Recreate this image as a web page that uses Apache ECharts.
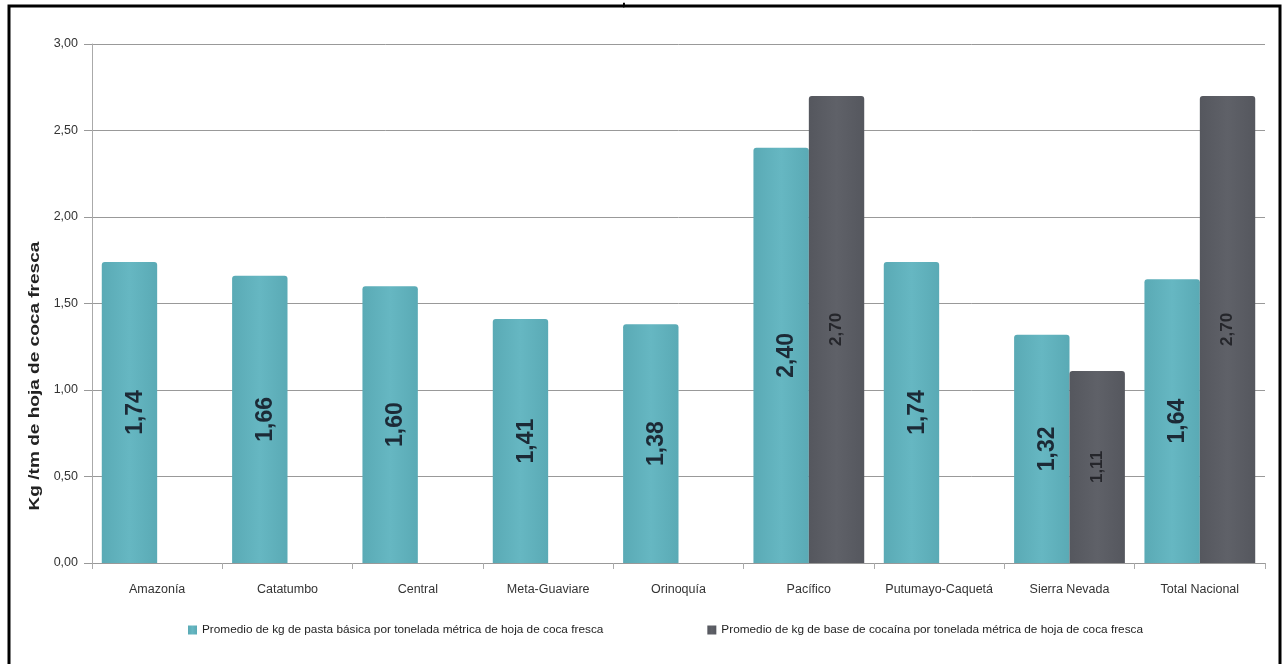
<!DOCTYPE html>
<html><head><meta charset="utf-8">
<script src="https://cdn.jsdelivr.net/npm/echarts@6/dist/echarts.min.js"></script>
<style>html,body{margin:0;padding:0;background:#fff}#c{width:1287px;height:664px}</style>
</head><body><div id="c"></div>
<script>
const categories = ['Amazonía','Catatumbo','Central','Meta-Guaviare','Orinoquía','Pacífico','Putumayo-Caquetá','Sierra Nevada','Total Nacional'];
const pastaBasica = [1.74,1.66,1.60,1.41,1.38,2.40,1.74,1.32,1.64];
const baseCocaina = [null,null,null,null,null,2.70,null,1.11,2.70];
const seriesNames = ['Promedio de kg de pasta básica por tonelada métrica de hoja de coca fresca','Promedio de kg de base de cocaína por tonelada métrica de hoja de coca fresca'];
const yAxisTitle = 'Kg /tm de hoja de coca fresca';
const yTicks = {min:0,max:3,interval:0.5};

const fmt = v => Number(v).toFixed(2).replace('.', ',');
const narrow = "'Liberation Sans',Arial,sans-serif";
const chart = echarts.init(document.getElementById('c'));
chart.setOption({
  animation:false,
  backgroundColor:'#fff',
  graphic:[
    {type:'rect',shape:{x:9,y:6,width:1271,height:700},style:{fill:'none',stroke:'#000',lineWidth:3},z:100},
    {type:'text',left:622,top:-6,style:{text:',',font:'bold 14px sans-serif',fill:'#000'}},
    {type:'text',x:35,y:376,rotation:Math.PI/2,scaleX:1.36,
      style:{text:yAxisTitle,font:"bold 14px 'Liberation Sans',Arial,sans-serif",fill:'#222',align:'center',verticalAlign:'middle'}}
  ],
  grid:{left:92,right:22,top:44,bottom:101},
  legend:{top:619,left:183,itemGap:104,itemWidth:9,itemHeight:9,icon:'rect',
    textStyle:{fontFamily:narrow,fontSize:11.8,color:'#222'},data:seriesNames},
  xAxis:{type:'category',data:categories,
    axisLine:{lineStyle:{color:'#999'}},
    axisTick:{show:true,length:6,lineStyle:{color:'#aaa'}},
    axisLabel:{fontFamily:narrow,fontSize:12.5,color:'#333',margin:20,interval:0}},
  yAxis:{type:'value',min:yTicks.min,max:yTicks.max,interval:yTicks.interval,
    axisLine:{show:true,lineStyle:{color:'#aaa'}},
    axisTick:{show:true,length:8,lineStyle:{color:'#999'}},
    splitLine:{lineStyle:{color:'#999',width:1}},
    axisLabel:{fontFamily:narrow,fontSize:12.5,color:'#333',margin:14,formatter:v=>fmt(v)}},
  series:[
    {name:seriesNames[0],type:'bar',data:pastaBasica,barGap:'0%',barCategoryGap:'15%',
      itemStyle:{color:new echarts.graphic.LinearGradient(0,0,1,0,[{offset:0,color:'#5aaab5'},{offset:0.5,color:'#66b7c2'},{offset:1,color:'#5aaab5'}]),
        borderRadius:[3,3,0,0]},
      label:{show:true,position:'inside',rotate:90,offset:[0,6],formatter:p=>fmt(p.value),
        fontFamily:"'Liberation Sans',Arial,sans-serif",fontWeight:'bold',fontSize:23,color:'#1c2a36'}},
    {name:seriesNames[1],type:'bar',data:baseCocaina,
      itemStyle:{color:new echarts.graphic.LinearGradient(0,0,1,0,[{offset:0,color:'#55575e'},{offset:0.5,color:'#5f6168'},{offset:1,color:'#55575e'}]),
        borderRadius:[3,3,0,0]},
      label:{show:true,position:'inside',rotate:90,formatter:p=>fmt(p.value),
        fontFamily:"'Liberation Sans',Arial,sans-serif",fontWeight:'bold',fontSize:17,color:'#25262b'}}
  ]
});
</script></body></html>
